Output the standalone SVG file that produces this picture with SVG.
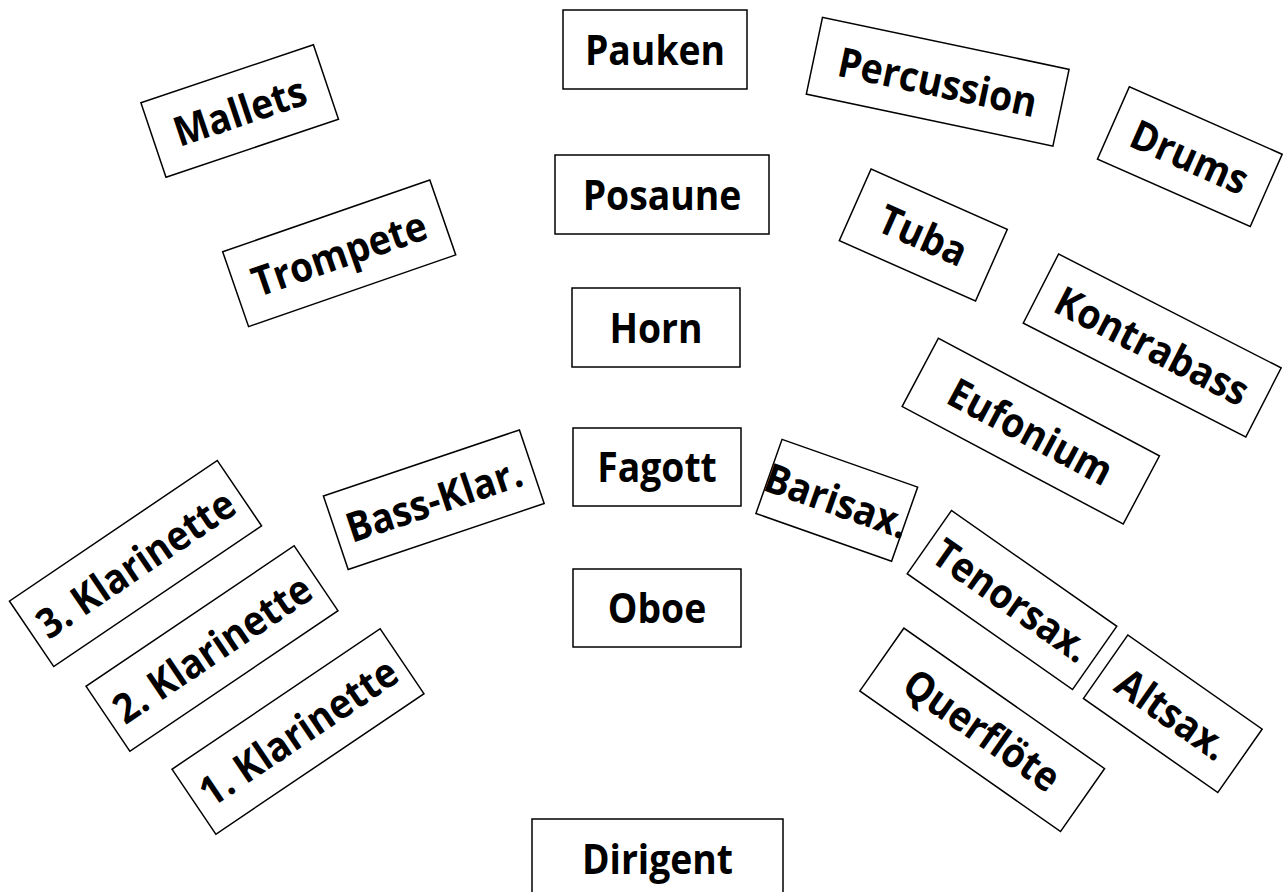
<svg xmlns="http://www.w3.org/2000/svg" width="1283" height="892" viewBox="0 0 1283 892">
  <style>
    .box { fill: #ffffff; stroke: #000000; stroke-width: 1.5; }
    .lbl { font-family: "Open Sans", "Noto Sans", "Liberation Sans", sans-serif; font-weight: 700; font-size: 41px; fill: #000000; text-anchor: middle; }
  </style>
  <rect x="0" y="0" width="1283" height="892" fill="#ffffff"/>

  <!-- centre line: conductor and woodwind/brass rows -->
  <g id="pauken" transform="translate(655,49.5)">
    <rect class="box" x="-92" y="-39.5" width="184" height="79"/>
    <text class="lbl" x="0" y="15" transform="scale(0.91,1)">Pauken</text>
  </g>
  <g id="posaune" transform="translate(662,194.5)">
    <rect class="box" x="-107" y="-39.5" width="214" height="79"/>
    <text class="lbl" x="0" y="15" transform="scale(0.91,1)">Posaune</text>
  </g>
  <g id="horn" transform="translate(656,327.5)">
    <rect class="box" x="-84" y="-39.5" width="168" height="79"/>
    <text class="lbl" x="0" y="15" transform="scale(0.91,1)">Horn</text>
  </g>
  <g id="fagott" transform="translate(657,467)">
    <rect class="box" x="-84" y="-39" width="168" height="78"/>
    <text class="lbl" x="0" y="15" transform="scale(0.91,1)">Fagott</text>
  </g>
  <g id="oboe" transform="translate(657,608)">
    <rect class="box" x="-84" y="-39" width="168" height="78"/>
    <text class="lbl" x="0" y="15" transform="scale(0.91,1)">Oboe</text>
  </g>
  <g id="dirigent" transform="translate(657.5,858.5)">
    <rect class="box" x="-125.5" y="-39.5" width="251" height="79"/>
    <text class="lbl" x="0" y="15" transform="scale(0.91,1)">Dirigent</text>
  </g>

  <!-- left side -->
  <g id="mallets" transform="translate(239.7,111) rotate(-18.6)">
    <rect class="box" x="-91" y="-39.3" width="182" height="78.6"/>
    <text class="lbl" x="0" y="15" transform="scale(0.91,1)">Mallets</text>
  </g>
  <g id="trompete" transform="translate(339.2,253.3) rotate(-19.1)">
    <rect class="box" x="-109.6" y="-39.6" width="219.2" height="79.2"/>
    <text class="lbl" x="0" y="15" transform="scale(0.91,1)">Trompete</text>
  </g>
  <g id="bass-klar" transform="translate(433.8,499.7) rotate(-18.6)">
    <rect class="box" x="-103.4" y="-38.8" width="206.8" height="77.6"/>
    <text class="lbl" x="0" y="15" transform="scale(0.91,1)">Bass-Klar.</text>
  </g>
  <g id="klarinette-3" transform="translate(135.5,563.5) rotate(-34.1)">
    <rect class="box" x="-125.5" y="-39.5" width="251" height="79"/>
    <text class="lbl" x="0" y="15" transform="scale(0.91,1)">3. Klarinette</text>
  </g>
  <g id="klarinette-2" transform="translate(212,648.5) rotate(-34)">
    <rect class="box" x="-125.5" y="-39.2" width="251" height="78.4"/>
    <text class="lbl" x="0" y="15" transform="scale(0.91,1)">2. Klarinette</text>
  </g>
  <g id="klarinette-1" transform="translate(298,731.5) rotate(-34)">
    <rect class="box" x="-125.5" y="-39.2" width="251" height="78.4"/>
    <text class="lbl" x="0" y="15" transform="scale(0.91,1)">1. Klarinette</text>
  </g>

  <!-- right side -->
  <g id="percussion" transform="translate(937.7,81.7) rotate(11.9)">
    <rect class="box" x="-126" y="-39.2" width="252" height="78.4"/>
    <text class="lbl" x="0" y="15" transform="scale(0.91,1)">Percussion</text>
  </g>
  <g id="drums" transform="translate(1189.8,156.7) rotate(23.8)">
    <rect class="box" x="-83.5" y="-39.5" width="167" height="79"/>
    <text class="lbl" x="0" y="15" transform="scale(0.91,1)">Drums</text>
  </g>
  <g id="tuba" transform="translate(923.3,235) rotate(23.9)">
    <rect class="box" x="-74.5" y="-39.2" width="149" height="78.4"/>
    <text class="lbl" x="0" y="15" transform="scale(0.91,1)">Tuba</text>
  </g>
  <g id="kontrabass" transform="translate(1152.2,345.5) rotate(27.1)">
    <rect class="box" x="-125" y="-38.8" width="250" height="77.6"/>
    <text class="lbl" x="0" y="15" transform="scale(0.91,1)">Kontrabass</text>
  </g>
  <g id="eufonium" transform="translate(1030.8,431.2) rotate(28)">
    <rect class="box" x="-125.2" y="-38.6" width="250.4" height="77.2"/>
    <text class="lbl" x="0" y="15" transform="scale(0.91,1)">Eufonium</text>
  </g>
  <g id="barisax" transform="translate(836.8,500.3) rotate(19.4)">
    <rect class="box" x="-71.9" y="-39.3" width="143.8" height="78.6"/>
    <text class="lbl" x="0" y="15" transform="scale(0.91,1)">Barisax.</text>
  </g>
  <g id="tenorsax" transform="translate(1012,600) rotate(35)">
    <rect class="box" x="-100.9" y="-38.6" width="201.8" height="77.2"/>
    <text class="lbl" x="0" y="15" transform="scale(0.91,1)">Tenorsax.</text>
  </g>
  <g id="querfloete" transform="translate(982.2,729.8) rotate(35)">
    <rect class="box" x="-122.5" y="-38.4" width="245" height="76.8"/>
    <text class="lbl" x="0" y="15" transform="scale(0.91,1)">Querflöte</text>
  </g>
  <g id="altsax" transform="translate(1172.8,713.8) rotate(35)">
    <rect class="box" x="-82" y="-38.7" width="164" height="77.4"/>
    <text class="lbl" x="0" y="15" transform="scale(0.91,1)">Altsax.</text>
  </g>
</svg>
